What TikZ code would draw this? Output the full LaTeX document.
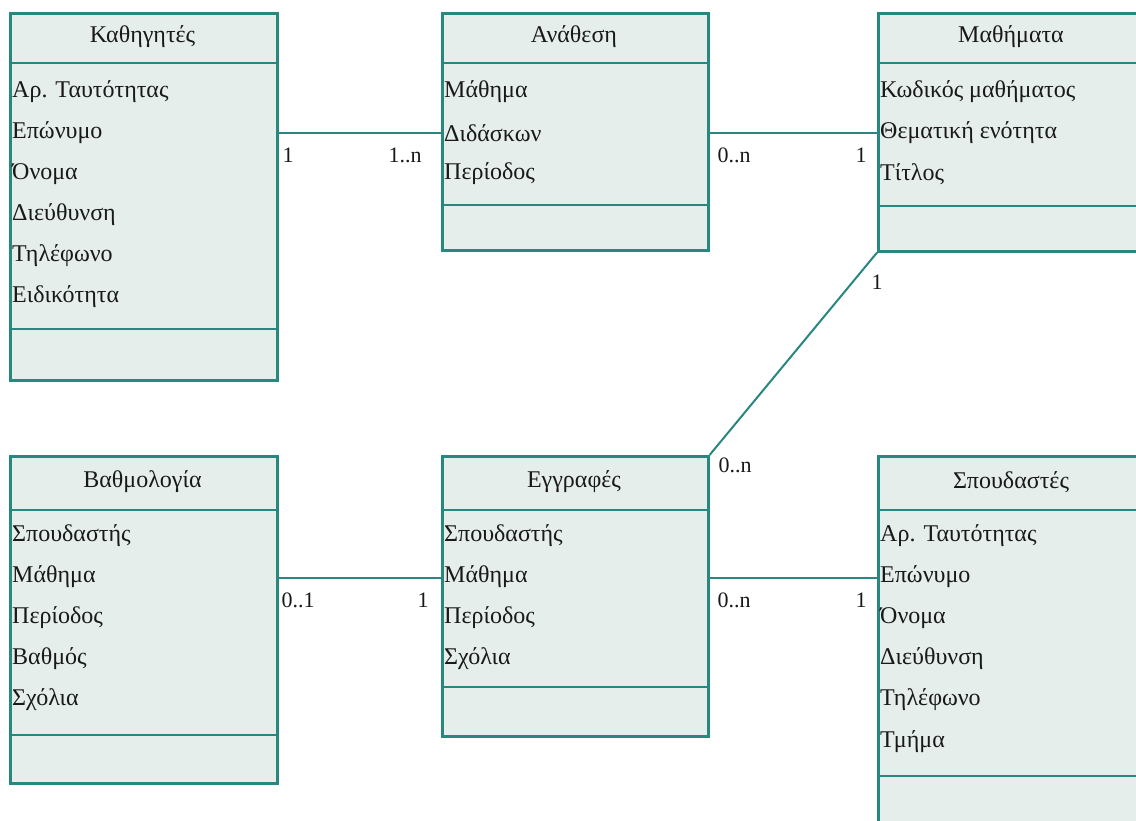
\documentclass[tikz,border=0pt]{standalone}
\usepackage{fontspec}
\setmainfont{Liberation Serif}
\definecolor{teal1}{RGB}{40,136,128}
\definecolor{boxfill}{RGB}{230,238,235}
\definecolor{txt}{RGB}{25,25,25}
\tikzset{
  cls/.style={draw=teal1, fill=boxfill, line width=2.6pt, rectangle, anchor=north west, inner sep=0pt},
  ttl/.style={font=\fontsize{24}{28}\selectfont, text=txt, inner sep=0pt},
  attr/.style={font=\fontsize{24}{28}\selectfont, text=txt, anchor=west, inner sep=0pt},
  divline/.style={draw=teal1, line width=2.6pt},
  conn/.style={draw=teal1, line width=2.6pt},
  mult/.style={font=\fontsize{22}{24}\selectfont, text=txt, inner sep=0pt}
}
\begin{document}
\begin{tikzpicture}[x=1pt,y=-1pt]
\clip (0,0) rectangle (1136,820);
\fill[white] (0,0) rectangle (1136,820);

% Καθηγητές
\node[cls, minimum width=267pt, minimum height=367pt] (kath) at (9,12) {};
\draw[divline] (9,63) -- (276,63);
\draw[divline] (9,329) -- (276,329);
\node[ttl] (kathT) at (142.5,37) {Καθηγητές};
\node[attr] (k1) at (12,92) {Αρ. Ταυτότητας};
\node[attr] (k2) at (12,133) {Επώνυμο};
\node[attr] (k3) at (12,174) {Όνομα};
\node[attr] (k4) at (12,215) {Διεύθυνση};
\node[attr] (k5) at (12,256) {Τηλέφωνο};
\node[attr] (k6) at (12,297) {Ειδικότητα};

% Ανάθεση
\node[cls, minimum width=266pt, minimum height=237pt] (anath) at (441,12) {};
\draw[divline] (441,63) -- (707,63);
\draw[divline] (441,205) -- (707,205);
\node[ttl] (anathT) at (574,37) {Ανάθεση};
\node[attr] (a1) at (444,92) {Μάθημα};
\node[attr] (a2) at (444,133) {Διδάσκων};
\node[attr] (a3) at (444,174) {Περίοδος};

% Μαθήματα
\node[cls, minimum width=300pt, minimum height=238pt] (math) at (877,12) {};
\draw[divline] (877,63) -- (1177,63);
\draw[divline] (877,206) -- (1177,206);
\node[ttl] (mathT) at (1011,37) {Μαθήματα};
\node[attr] (m1) at (880,92) {Κωδικός μαθήματος};
\node[attr] (m2) at (880,133) {Θεματική ενότητα};
\node[attr] (m3) at (880,174) {Τίτλος};

% Βαθμολογία
\node[cls, minimum width=267pt, minimum height=327pt] (bath) at (9,455) {};
\draw[divline] (9,510) -- (276,510);
\draw[divline] (9,735) -- (276,735);
\node[ttl] (bathT) at (142.5,482) {Βαθμολογία};
\node[attr] (b1) at (12,536) {Σπουδαστής};
\node[attr] (b2) at (12,577) {Μάθημα};
\node[attr] (b3) at (12,618) {Περίοδος};
\node[attr] (b4) at (12,659) {Βαθμός};
\node[attr] (b5) at (12,700) {Σχόλια};

% Εγγραφές
\node[cls, minimum width=266pt, minimum height=280pt] (eggr) at (441,455) {};
\draw[divline] (441,510) -- (707,510);
\draw[divline] (441,687) -- (707,687);
\node[ttl] (eggrT) at (574,482) {Εγγραφές};
\node[attr] (e1) at (444,536) {Σπουδαστής};
\node[attr] (e2) at (444,577) {Μάθημα};
\node[attr] (e3) at (444,618) {Περίοδος};
\node[attr] (e4) at (444,659) {Σχόλια};

% Σπουδαστές
\node[cls, minimum width=300pt, minimum height=400pt] (spoud) at (877,455) {};
\draw[divline] (877,510) -- (1177,510);
\draw[divline] (877,776) -- (1177,776);
\node[ttl] (spoudT) at (1011,482) {Σπουδαστές};
\node[attr] (s1) at (880,536) {Αρ. Ταυτότητας};
\node[attr] (s2) at (880,577) {Επώνυμο};
\node[attr] (s3) at (880,618) {Όνομα};
\node[attr] (s4) at (880,659) {Διεύθυνση};
\node[attr] (s5) at (880,700) {Τηλέφωνο};
\node[attr] (s6) at (880,742) {Τμήμα};

% connectors
\draw[conn] ([yshift=-121pt]kath.north east) -- ([yshift=-121pt]anath.north west);
\draw[conn] ([yshift=-121pt]anath.north east) -- ([yshift=-121pt]math.north west);
\draw[conn, line width=2pt] (math.south west) -- (eggr.north east);
\draw[conn] ([yshift=-123pt]bath.north east) -- ([yshift=-123pt]eggr.north west);
\draw[conn, line width=2pt] ([yshift=-123pt]eggr.north east) -- ([yshift=-123pt]spoud.north west);

% multiplicities
\node[mult] (l1) at (288,155) {1};
\node[mult] (l2) at (405,155) {1..n};
\node[mult] (l3) at (734,155) {0..n};
\node[mult] (l4) at (861,155) {1};
\node[mult] (l5) at (877,282) {1};
\node[mult] (l6) at (735,465) {0..n};
\node[mult] (l7) at (298,600) {0..1};
\node[mult] (l8) at (423,600) {1};
\node[mult] (l9) at (734,600) {0..n};
\node[mult] (l10) at (861,600) {1};
\end{tikzpicture}
\end{document}
